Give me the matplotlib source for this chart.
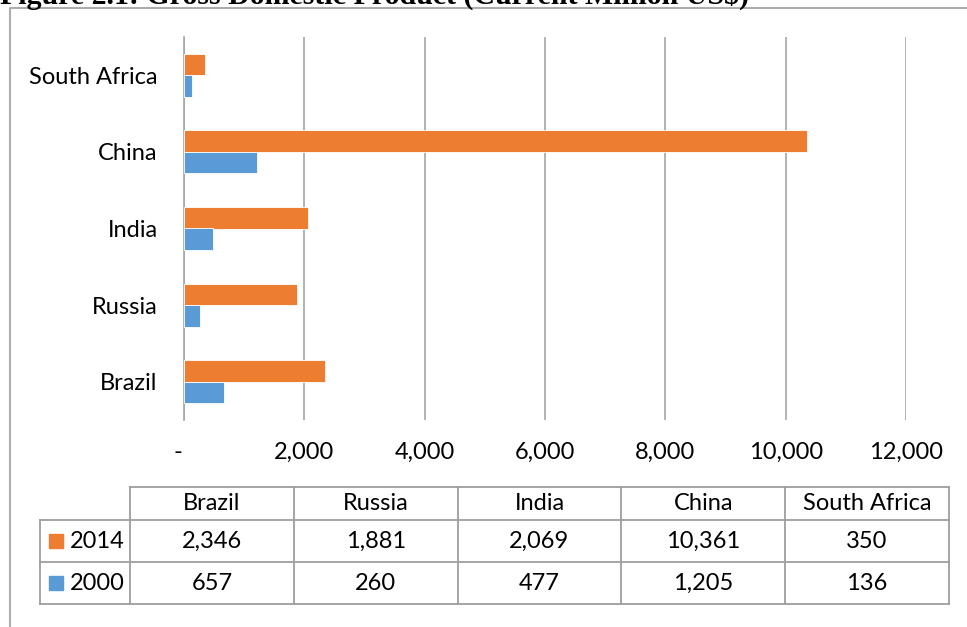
import matplotlib
matplotlib.use('Agg')
from matplotlib import pyplot as plt
from matplotlib.patches import Rectangle
import matplotlib.transforms as mtransforms
import numpy as np

countries = ['Brazil', 'Russia', 'India', 'China', 'South Africa']
gdp_2014 = [2346, 1881, 2069, 10361, 350]
gdp_2000 = [657, 260, 477, 1205, 136]
series_names = ['2014', '2000']
xticks = [0, 2000, 4000, 6000, 8000, 10000, 12000]

orange = '#ED7D31'
blue = '#5B9BD5'
grid_c = '#A6A6A6'

plt.rcParams['font.family'] = ['Lato', 'DejaVu Sans']

W, H = 967, 627
fig = plt.figure(figsize=(W / 100, H / 100), dpi=100)

# pixel -> figure fraction helper
def box(x0, y0, x1, y1):
    return [x0 / W, 1 - y1 / H, (x1 - x0) / W, (y1 - y0) / H]

ax = fig.add_axes(box(184, 37, 906, 420))
y = np.arange(len(countries))
bh = 0.28
ax.barh(y + bh / 2, gdp_2014, height=bh, color=orange, edgecolor='white', linewidth=0.6, zorder=3)
ax.barh(y - bh / 2, gdp_2000, height=bh, color=blue, edgecolor='white', linewidth=0.6, zorder=3)
ax.set_ylim(-0.5, len(countries) - 0.5)
ax.set_xlim(0, 12000)
ax.set_yticks(y)
ax.set_yticklabels(countries, fontsize=17)
ax.set_xticks(xticks)
ax.set_xticklabels(['-' if v == 0 else f'{v:,}' for v in xticks], fontsize=17)
ax.tick_params(axis='y', length=0, pad=19)
ax.tick_params(axis='x', length=0, pad=16)
ax.grid(axis='x', color=grid_c, linewidth=1.2, zorder=0)
for s in ['top', 'right', 'bottom']:
    ax.spines[s].set_visible(False)
ax.spines['left'].set_color(grid_c)
ax.spines['left'].set_linewidth(1.2)

# the zero label ("-") sits a little left of the axis, like Excel's accounting format
lbl0 = ax.get_xticklabels()[0]
lbl0.set_transform(lbl0.get_transform() + mtransforms.ScaledTranslation(-6 / 100, 0, fig.dpi_scale_trans))

# overlay in pixel coords for border + data table
ov = fig.add_axes([0, 0, 1, 1])
ov.set_xlim(0, W)
ov.set_ylim(H, 0)
ov.axis('off')
ov.patch.set_visible(False)

# outer chart border
ov.plot([10, 10, W + 5], [H + 5, 8, 8], color='#ADADAD', lw=1.5)

# data table
line_c = '#9E9E9E'
lab_x0, lab_x1 = 40, 130
col_w = (949 - 130) / len(countries)
col_edges = [lab_x1 + i * col_w for i in range(len(countries) + 1)]
row_edges = [487, 520, 562, 604]

# horizontal lines
ov.plot([lab_x1, col_edges[-1]], [row_edges[0]] * 2, color=line_c, lw=1.3)
for r in row_edges[1:]:
    ov.plot([lab_x0, col_edges[-1]], [r, r], color=line_c, lw=1.3)
# vertical lines
ov.plot([lab_x0, lab_x0], [row_edges[1], row_edges[-1]], color=line_c, lw=1.3)
for c in col_edges:
    ov.plot([c, c], [row_edges[0], row_edges[-1]], color=line_c, lw=1.3)

for i, name in enumerate(countries):
    cx = (col_edges[i] + col_edges[i + 1]) / 2
    ov.text(cx, (row_edges[0] + row_edges[1]) / 2, name, ha='center', va='center', fontsize=17)
    ov.text(cx, (row_edges[1] + row_edges[2]) / 2, f'{gdp_2014[i]:,}', ha='center', va='center', fontsize=17)
    ov.text(cx, (row_edges[2] + row_edges[3]) / 2, f'{gdp_2000[i]:,}', ha='center', va='center', fontsize=17)

for k, (nm, col) in enumerate(zip(series_names, [orange, blue])):
    cy = (row_edges[k + 1] + row_edges[k + 2]) / 2
    ov.add_patch(Rectangle((49, cy - 7), 14, 14, color=col))
    ov.text(70, cy, nm, ha='left', va='center', fontsize=17)

# title (cut off at top in the source)
fig.text(0, 1 - 4 / H, 'Figure 2.1: Gross Domestic Product (Current Million US\\$)',
         fontfamily='Liberation Serif', fontweight='bold', fontsize=21.5, va='baseline', ha='left')

fig.savefig('out.png', dpi=100)
